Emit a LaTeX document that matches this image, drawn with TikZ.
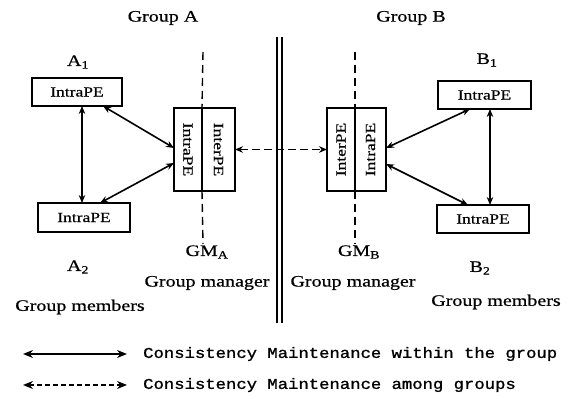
\documentclass[tikz,border=0pt]{standalone}
\usepackage{fontspec}
\usepackage{graphicx}
\setmainfont{Liberation Serif}[FakeStretch=1.25,FakeBold=0.6]
\newfontfamily\legendfont{Liberation Mono}[FakeStretch=1.15,FakeBold=1.2]
\usetikzlibrary{arrows.meta}
\tikzset{
  pebox/.style={draw, line width=1.4pt, inner sep=0pt, outer sep=0pt, font=\fontsize{14}{14}\selectfont},
  lbl/.style={font=\fontsize{16}{16}\selectfont, inner sep=0pt},
  leg/.style={font=\legendfont\fontsize{15}{15}\selectfont, inner sep=0pt},
  arr/.style={{Stealth[length=8pt,width=6.5pt]}-{Stealth[length=8pt,width=6.5pt]}, line width=1.6pt},
  darr/.style={arr, dash pattern=on 8pt off 4pt},
  legarr/.style={{Stealth[length=10pt,width=8pt]}-{Stealth[length=10pt,width=8pt]}, line width=1.6pt},
  legdarr/.style={legarr, line width=1.2pt, dash pattern=on 5pt off 3pt},
  gmline/.style={line width=1.4pt, dash pattern=on 8pt off 5pt},
  sepline/.style={line width=1.4pt}
}
\begin{document}
\begin{tikzpicture}[x=1pt,y=-1pt]
\useasboundingbox (0,0) rectangle (571,398);
% group titles
\node[lbl] (gA) at (163,18) {Group A};
\node[lbl] (gB) at (411,18) {Group B};
% separator
\coordinate (s1t) at (277,37); \coordinate (s1b) at (277,323);
\coordinate (s2t) at (282,37); \coordinate (s2b) at (282,323);
\draw[sepline] (s1t) -- (s1b);
\draw[sepline] (s2t) -- (s2b);
% member boxes
\node[pebox, minimum width=90pt, minimum height=28pt] (A1) at (77,92) {IntraPE};
\node[pebox, minimum width=92pt, minimum height=29pt] (A2) at (84,217.5) {IntraPE};
\node[pebox, minimum width=93pt, minimum height=28pt] (B1) at (484.5,95) {IntraPE};
\node[pebox, minimum width=92pt, minimum height=28pt] (B2) at (483,219) {IntraPE};
% group manager boxes
\node[pebox, minimum width=28pt, minimum height=83pt] (GMAl) at (188,149.5) {\rotatebox{-90}{IntraPE}};
\node[pebox, minimum width=33pt, minimum height=83pt] (GMAr) at (218.5,149.5) {\rotatebox{-90}{InterPE}};
\node[pebox, minimum width=28pt, minimum height=83pt] (GMBl) at (341,149.5) {\rotatebox{90}{InterPE}};
\node[pebox, minimum width=31pt, minimum height=83pt] (GMBr) at (370.5,149.5) {\rotatebox{90}{IntraPE}};
% dashed manager lines
\coordinate (gAt) at (203,52); \coordinate (gAb) at (203,244);
\coordinate (gBt) at (355,52); \coordinate (gBb) at (355,244);
\draw[gmline] (gAt) -- (GMAl.north east);
\draw[gmline] (GMAl.south east) -- (gAb);
\draw[gmline] (gBt) -- (GMBl.north east);
\draw[gmline] (GMBl.south east) -- (gBb);
% arrows
\draw[arr] ([xshift=5pt]A1.south) -- ([xshift=-2pt]A2.north);
\draw[arr] ([xshift=26pt]A1.south) -- ([yshift=1.5pt]GMAl.west);
\draw[arr] ([xshift=16pt]A2.north) -- ([yshift=-13.5pt]GMAl.west);
\draw[darr] (GMAr.east) -- (GMBl.west);
\draw[arr] ([xshift=5.5pt]B1.south) -- ([xshift=7pt]B2.north);
\draw[arr] ([xshift=-14.5pt]B1.south) -- ([yshift=1.5pt]GMBr.east);
\draw[arr] ([yshift=-14.5pt]GMBr.east) -- ([xshift=-15pt]B2.north);
% labels
\node[lbl] (lA1) at (78,62) {A\textsubscript{1}};
\node[lbl] (lA2) at (78,267) {A\textsubscript{2}};
\node[lbl] (lB1) at (487,60) {B\textsubscript{1}};
\node[lbl] (lB2) at (480,268) {B\textsubscript{2}};
\node[lbl] (lGMA) at (207,252) {GM\textsubscript{A}};
\node[lbl] (lGMB) at (359,252) {GM\textsubscript{B}};
\node[lbl] (mA) at (207,283) {Group manager};
\node[lbl] (mB) at (353,283) {Group manager};
\node[lbl] (memA) at (80,307) {Group members};
\node[lbl] (memB) at (496,302) {Group members};
% legend
\coordinate (l1s) at (23,354); \coordinate (l1e) at (127,354);
\coordinate (l2s) at (23,385); \coordinate (l2e) at (127,385);
\draw[legarr] (l1s) -- (l1e);
\draw[legdarr] (l2s) -- (l2e);
\node[leg, anchor=west] (t1) at (143,354) {Consistency Maintenance within the group};
\node[leg, anchor=west] (t2) at (143,385) {Consistency Maintenance among groups};
\end{tikzpicture}
\end{document}
